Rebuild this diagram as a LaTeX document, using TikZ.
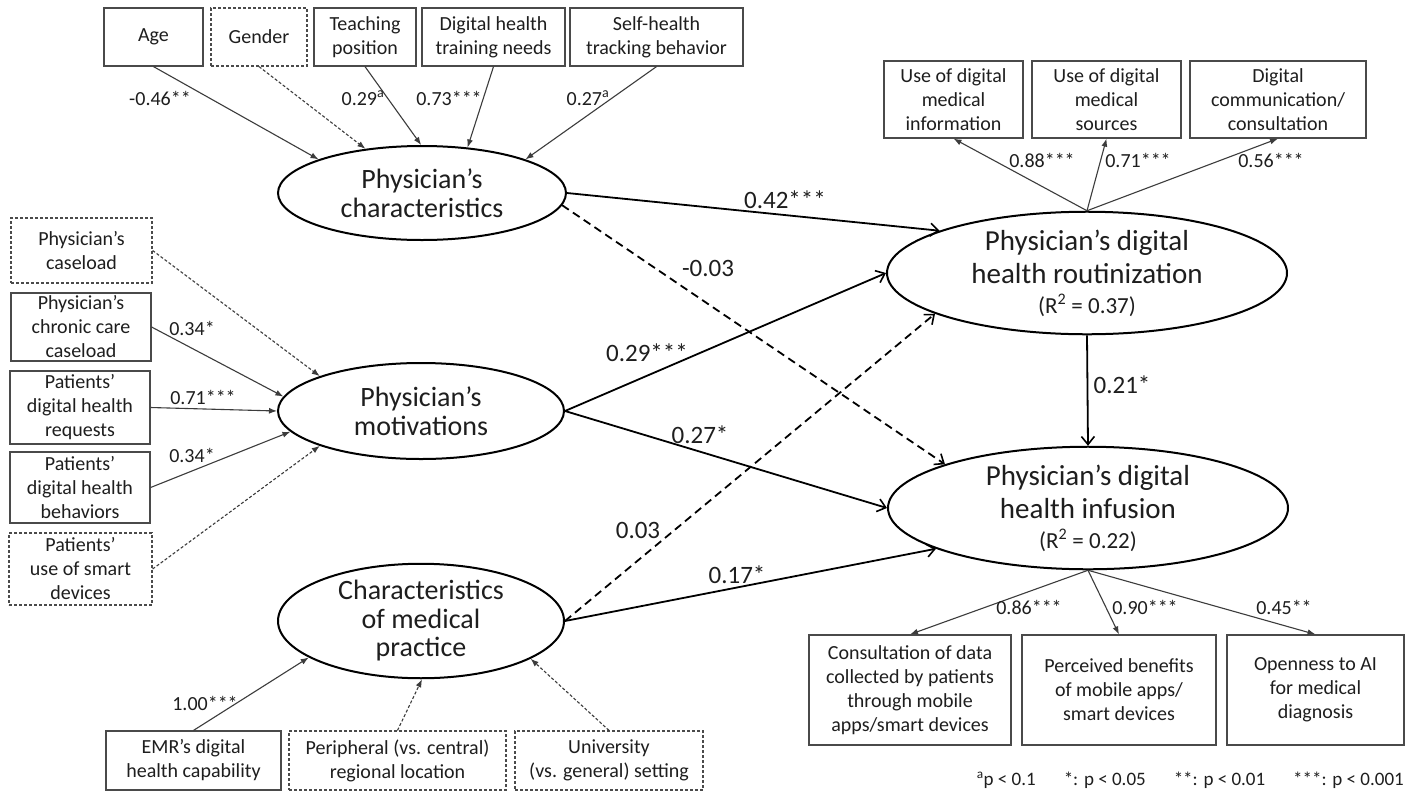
\documentclass[tikz,border=0pt]{standalone}
\usepackage{fontspec}
\setmainfont{Carlito}
\usetikzlibrary{arrows.meta,shapes.geometric}
\definecolor{txt}{HTML}{1E1E1E}
\definecolor{boxc}{HTML}{4A4A4A}
\definecolor{linec}{HTML}{3C3C3C}
\begin{document}
\begin{tikzpicture}[x=1pt,y=-1pt,
  box/.style={draw=boxc, line width=1.2pt, align=center, text=txt,
    font=\fontsize{20}{24}\selectfont, inner sep=0pt},
  dbox/.style={box, dash pattern=on 3pt off 2pt},
  lat/.style={ellipse, draw=black, line width=2pt, align=center, inner sep=0pt, text=txt},
  lfont/.style={font=\fontsize{28}{28.5}\selectfont},
  rfont/.style={font=\fontsize{29}{33}\selectfont},
  load/.style={draw=linec, line width=1.1pt, -{Latex[length=8pt,width=6pt]}},
  dload/.style={load, dash pattern=on 3pt off 2pt},
  spath/.style={draw=black, line width=1.8pt, -{Straight Barb[length=8pt,width=13pt,line width=1.6pt]}},
  dpath/.style={spath, dash pattern=on 8pt off 5pt},
  lab/.style={font=\fontsize{20}{24}\selectfont, inner sep=0pt, text=txt},
  blab/.style={font=\fontsize{25}{30}\selectfont, inner sep=0pt, text=txt}
]
\fill[white] (0,0) rectangle (1419,793);
\useasboundingbox (0,0) rectangle (1419,793);

% latent variables
\node[lat, lfont, minimum width=288pt, minimum height=94pt] (C1) at (422,193) {Physician’s\\characteristics};
\node[lat, lfont, minimum width=286pt, minimum height=96pt] (M) at (421,411) {Physician’s\\motivations};
\node[lat, lfont, minimum width=286pt, minimum height=96pt] (P) at (421,621) {Characteristics\\of medical\\practice};
\node[lat, rfont, minimum width=400pt, minimum height=110pt] (R) at (1087,273)
  {Physician’s digital\\health routinization\\[-3pt]{\fontsize{23}{26}\selectfont(R\textsuperscript{2} = 0.37)}};
\node[lat, rfont, minimum width=400pt, minimum height=110pt] (I) at (1088,508)
  {Physician’s digital\\health infusion\\[-3pt]{\fontsize{23}{26}\selectfont(R\textsuperscript{2} = 0.22)}};

% top boxes
\node[box, minimum width=99pt, minimum height=58pt] (age) at (153.5,37) {Age};
\node[dbox, minimum width=96pt, minimum height=58pt] (gender) at (259,37) {Gender};
\node[box, minimum width=102pt, minimum height=58pt] (teach) at (365,37) {Teaching\\position};
\node[box, minimum width=143pt, minimum height=58pt] (train) at (493.5,37) {Digital health\\training needs};
\node[box, minimum width=173pt, minimum height=58pt] (self) at (656.5,37) {Self-health\\tracking behavior};

% left boxes
\node[dbox, minimum width=141pt, minimum height=65pt] (cl) at (81.5,250.5) {Physician’s\\caseload};
\node[box, minimum width=140pt, minimum height=68pt] (ccl) at (81,327) {Physician’s\\chronic care\\caseload};
\node[box, minimum width=140pt, minimum height=73pt] (req) at (80,407.5) {Patients’\\digital health\\requests};
\node[box, minimum width=140pt, minimum height=71pt] (beh) at (80,487.5) {Patients’\\digital health\\behaviors};
\node[dbox, minimum width=143pt, minimum height=72pt] (smart) at (80.5,569) {Patients’\\use of smart\\devices};

% bottom-left boxes
\node[box, minimum width=175pt, minimum height=59pt] (emr) at (193.5,760.5) {EMR’s digital\\health capability};
\node[dbox, minimum width=217pt, minimum height=59pt] (peri) at (397.5,760.5) {Peripheral (vs. central)\\regional location};
\node[dbox, minimum width=188pt, minimum height=59pt] (univ) at (609,760.5) {University\\(vs. general) setting};

% top-right boxes
\node[box, minimum width=139pt, minimum height=77pt] (ui) at (953.5,99.5) {Use of digital\\medical\\information};
\node[box, minimum width=149pt, minimum height=77pt] (us) at (1106.5,99.5) {Use of digital\\medical\\sources};
\node[box, minimum width=176pt, minimum height=77pt] (dc) at (1278,99.5) {Digital\\communication/\\consultation};

% bottom-right boxes
\node[box, minimum width=202pt, minimum height=110pt] (cons) at (910,690) {Consultation of data\\collected  by patients\\through mobile\\apps/smart devices};
\node[box, minimum width=194pt, minimum height=110pt] (pb) at (1119,690) {Perceived benefits\\of mobile apps/\\smart devices};
\node[box, minimum width=177pt, minimum height=110pt] (oa) at (1315.5,690) {Openness to AI\\for medical\\diagnosis};

% loadings: physician characteristics
\draw[load] (age.south) -- (C1.162.4);
\draw[dload] (gender.south) -- (C1.142.5);
\draw[load] (teach.south) -- (C1.91);
\draw[load] (train.south) -- (C1.45.6);
\draw[load] (self.south) -- (C1.18.3);
\node[lab] (lage) at (160,98) {-0.46**};
\node[lab] (lteach) at (363,98) {0.29\textsuperscript{a}};
\node[lab] (ltrain) at (449,98) {0.73***};
\node[lab] (lself) at (588,98) {0.27\textsuperscript{a}};

% loadings: motivations
\draw[dload] (cl.east) -- (M.161.9);
\draw[load] (ccl.east) -- (M.174.2);
\draw[load] (req.east) -- (M.180.8);
\draw[load] (beh.east) -- (M.189);
\draw[dload] (smart.east) -- (M.199.6);
\node[lab] (lccl) at (192,328) {0.34*};
\node[lab] (lreq) at (203,397) {0.71***};
\node[lab] (lbeh) at (192,455) {0.34*};

% loadings: medical practice
\draw[load] (emr.north) -- (P.198.3);
\draw[dload] (peri.north) -- (P.271);
\draw[dload] (univ.north) -- (P.341);
\node[lab] (lemr) at (205,703) {1.00***};

% structural paths
\draw[spath] (C1.east) -- (R.164.6);
\draw[dpath] (C1.-5) -- (I.163.8);
\draw[spath] (M.east) -- (R.west);
\draw[spath] (M.east) -- (I.west);
\draw[dpath] (P.east) -- (R.195);
\draw[spath] (P.east) -- (I.195);
\draw[spath] (R.south) -- (I.north);
\node[blab] (l42) at (785,200) {0.42***};
\node[blab] (l03n) at (708,268) {-0.03};
\node[blab] (l29) at (647,353) {0.29***};
\node[blab] (l27) at (700,435) {0.27*};
\node[blab] (l03) at (638,530) {0.03};
\node[blab] (l17) at (737,575) {0.17*};
\node[blab] (l21) at (1122,385) {0.21*};

% routinization indicators
\draw[load] (R.north) -- (ui.south);
\draw[load] (R.north) -- (us.south);
\draw[load] (R.north) -- (dc.south);
\node[lab] (lui) at (1042,160) {0.88***};
\node[lab] (lus) at (1138,160) {0.71***};
\node[lab] (ldc) at (1271,160) {0.56***};

% infusion indicators
\draw[load] (I.south) -- (cons.north);
\draw[load] (I.south) -- (pb.north);
\draw[load] (I.south) -- (oa.north);
\node[lab] (lcons) at (1029,607) {0.86***};
\node[lab] (lpb) at (1145,607) {0.90***};
\node[lab] (loa) at (1284,607) {0.45**};

% legend
\node[font=\fontsize{19}{22}\selectfont, inner sep=0pt, anchor=east, text=txt] (legend) at (1404,780)
  {\textsuperscript{a}p < 0.1\hspace{28pt}*: p < 0.05\hspace{28pt}**: p < 0.01\hspace{28pt}***: p < 0.001};
\end{tikzpicture}
\end{document}
